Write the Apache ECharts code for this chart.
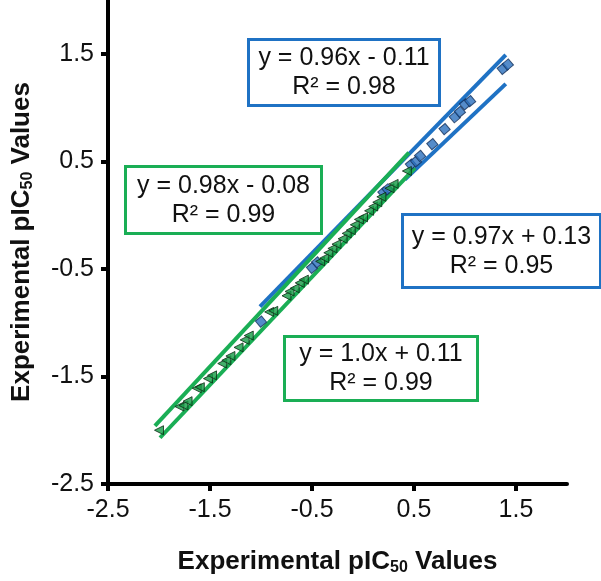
<!DOCTYPE html>
<html>
<head>
<meta charset="utf-8">
<script src="https://cdn.jsdelivr.net/npm/echarts@6/dist/echarts.min.js"></script>
<style>html,body{margin:0;padding:0;background:#fff;}#c{width:601px;height:581px;}</style>
</head>
<body>
<div id="c"></div>
<script>
// Axis ticks
const tickValues = [-2.5, -1.5, -0.5, 0.5, 1.5];
// Blue squares (set 1)
const blueSet = [[-1.0,-0.99],[-0.5,-0.49],[-0.45,-0.44],[0.2,0.21],[0.24,0.24],[0.47,0.47],[0.52,0.5],[0.56,0.55],[0.68,0.66],[0.8,0.8],[0.9,0.91],[0.95,0.96],[1.0,1.03],[1.05,1.06],[1.37,1.36],[1.42,1.4]];
// Green triangles (set 2)
const greenSet = [[-2.0,-2.0],[-1.8,-1.78],[-1.76,-1.77],[-1.72,-1.73],[-1.63,-1.61],[-1.6,-1.6],[-1.52,-1.52],[-1.48,-1.49],[-1.38,-1.38],[-1.34,-1.35],[-1.3,-1.31],[-1.22,-1.23],[-1.16,-1.16],[-1.12,-1.12],[-0.92,-0.9],[-0.88,-0.89],[-0.75,-0.75],[-0.72,-0.71],[-0.67,-0.68],[-0.62,-0.63],[-0.58,-0.6],[-0.42,-0.43],[-0.38,-0.4],[-0.34,-0.35],[-0.3,-0.31],[-0.26,-0.27],[-0.2,-0.22],[-0.16,-0.17],[-0.12,-0.14],[-0.08,-0.09],[-0.04,-0.04],[0.0,-0.02],[0.06,0.04],[0.1,0.08],[0.14,0.12],[0.18,0.17],[0.26,0.25],[0.3,0.29],[0.43,0.41]];
// Band lines
const blueUpper = [[-1.01,-0.85],[1.40,1.49]];
const blueLower = [[0.41,0.33],[1.40,1.22]];
const greenUpper = [[-2.04,-1.96],[0.45,0.58]];
const greenLower = [[-1.99,-2.07],[0.51,0.44]];
// Equation annotations
const eqBlueTop = ['y = 0.96x - 0.11', 'R² = 0.98'];
const eqGreenLeft = ['y = 0.98x - 0.08', 'R² = 0.99'];
const eqBlueRight = ['y = 0.97x + 0.13', 'R² = 0.95'];
const eqGreenBottom = ['y = 1.0x + 0.11', 'R² = 0.99'];

const BLUE = '#1f72c4';
const GREEN = '#1aae55';
const FONT = 'Liberation Sans, Arial, sans-serif';

function box(x, y, w, h, color, lines) {
  return {
    type: 'group', left: x, top: y,
    children: [
      {type: 'rect', shape: {x: 0, y: 0, width: w, height: h}, style: {fill: '#fff', stroke: color, lineWidth: 3}, z: 10},
      {type: 'text', x: w / 2, y: h / 2 - 14, style: {text: lines[0], fill: '#111', font: '25px ' + FONT, textAlign: 'center', textVerticalAlign: 'middle'}, z: 11},
      {type: 'text', x: w / 2, y: h / 2 + 15, style: {text: lines[1], fill: '#111', font: '25px ' + FONT, textAlign: 'center', textVerticalAlign: 'middle'}, z: 11}
    ]
  };
}

const chart = echarts.init(document.getElementById('c'), null, {renderer: 'canvas'});
const axisCommon = {
  type: 'value', min: -2.5, max: 2,
  splitLine: {show: false},
  axisLine: {show: true, onZero: false, lineStyle: {color: '#000', width: 4}},
  axisTick: {show: true, customValues: tickValues, length: 7, inside: false, lineStyle: {color: '#000', width: 4}},
  axisLabel: {customValues: tickValues, formatter: v => v.toFixed(1), color: '#111', fontSize: 25, fontFamily: FONT, margin: 14},
  nameLocation: 'middle',
  nameTextStyle: {
    rich: {
      a: {fontSize: 26, fontWeight: 'bold', fontFamily: FONT, color: '#111'},
      b: {fontSize: 16, fontWeight: 'bold', fontFamily: FONT, color: '#111', verticalAlign: 'bottom', padding: [12, 0, 0, 0]}
    }
  },
  name: '{a|Experimental pIC}{b|50}{a| Values}'
};
chart.setOption({
  animation: false,
  backgroundColor: '#fff',
  grid: {left: 108, right: 34, top: 0, bottom: 95},
  xAxis: Object.assign({}, axisCommon, {nameGap: 64}),
  yAxis: Object.assign({}, axisCommon, {nameGap: 72}),
  series: [
    {type: 'line', data: blueUpper, showSymbol: false, symbol: 'none', lineStyle: {color: BLUE, width: 4}, z: 2},
    {type: 'line', data: blueLower, showSymbol: false, symbol: 'none', lineStyle: {color: BLUE, width: 4}, z: 2},
    {type: 'line', data: greenUpper, showSymbol: false, symbol: 'none', lineStyle: {color: GREEN, width: 4}, z: 3},
    {type: 'line', data: greenLower, showSymbol: false, symbol: 'none', lineStyle: {color: GREEN, width: 4}, z: 3},
    {type: 'scatter', data: blueSet, symbol: 'rect', symbolSize: 8, symbolRotate: 40, itemStyle: {color: '#2a6fbd', borderColor: '#13305a', borderWidth: 1}, z: 4},
    {type: 'scatter', data: greenSet, symbol: 'triangle', symbolSize: 9, symbolRotate: 90, itemStyle: {color: '#149a45', borderColor: '#0b2a14', borderWidth: 1}, z: 5}
  ],
  graphic: [
    box(247, 38, 191, 66, BLUE, eqBlueTop),
    box(124, 165, 196, 67, GREEN, eqGreenLeft),
    box(401, 213, 198, 73, BLUE, eqBlueRight),
    box(283, 335, 193, 64, GREEN, eqGreenBottom)
  ]
});
</script>
</body>
</html>
